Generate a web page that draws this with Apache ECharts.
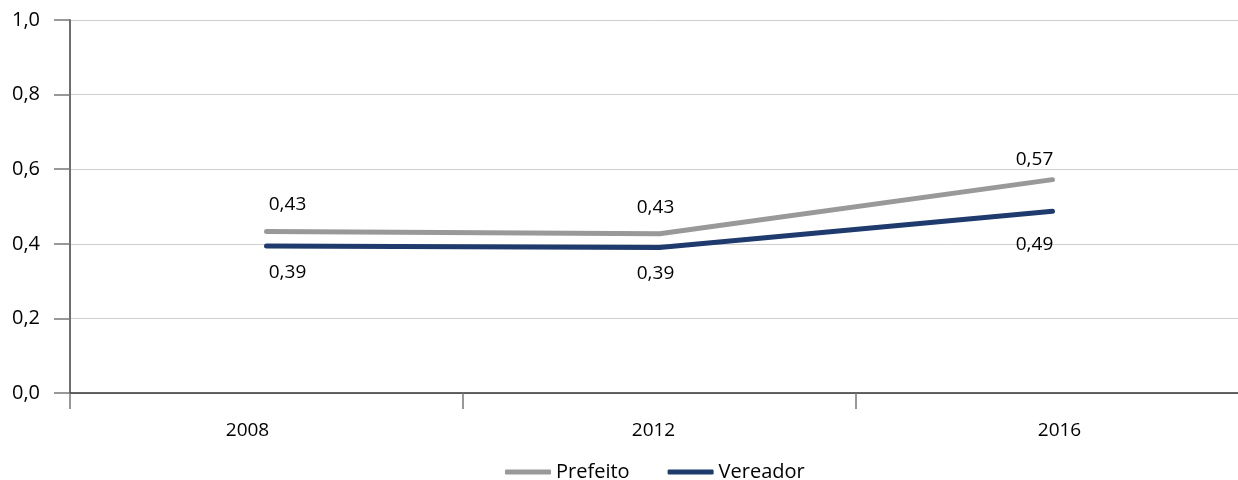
<!DOCTYPE html>
<html><head><meta charset="utf-8">
<script src="https://cdn.jsdelivr.net/npm/echarts@6/dist/echarts.min.js"></script>
<style>html,body{margin:0;padding:0;background:#fff}#c{width:1238px;height:480px}</style>
</head><body><div id="c"></div>
<script>
const categories = ['2008', '2012', '2016'];
const prefeito = [0.433, 0.427, 0.572];
const vereador = [0.394, 0.390, 0.487];
const yTicks = [0, 0.2, 0.4, 0.6, 0.8, 1.0];

// label style tweaks (pixel offsets, not data)
const topOffsets = [[21, -12], [-4, -12], [-18, -6]];
const botOffsets = [[21, 0], [-4, 0], [-18, 7]];
const xLabelStyles = ['l', 'm', 'r'];

const fmt = v => v.toFixed(2).replace('.', ',');
const font = 'Open Sans';
const labelBase = { show: true, fontSize: 19, color: '#000', fontFamily: font,
  formatter: p => fmt(p.value) };

const chart = echarts.init(document.getElementById('c'));
chart.setOption({
  animation: false,
  textStyle: { fontFamily: font },
  grid: { left: 70, top: 20, width: 1179, height: 373, outerBoundsMode: 'none', containLabel: false },
  xAxis: {
    type: 'category', data: categories, boundaryGap: true,
    axisLine: { lineStyle: { color: '#333', width: 1.5 } },
    axisTick: { show: true, length: 16, lineStyle: { color: '#777', width: 1.5 } },
    axisLabel: { color: '#000', fontSize: 19, margin: 28, fontFamily: font,
      formatter: (v, i) => '{' + xLabelStyles[i] + '|' + v + '}',
      rich: {
        l: { fontSize: 19, color: '#000', fontFamily: font, padding: [0, 38, 0, 0] },
        m: { fontSize: 19, color: '#000', fontFamily: font, padding: [0, 12, 0, 0] },
        r: { fontSize: 19, color: '#000', fontFamily: font, padding: [0, 0, 0, 14] }
      } }
  },
  yAxis: {
    type: 'value', min: 0, max: 1, interval: 0.2,
    axisLine: { show: true, lineStyle: { color: '#6e6e6e', width: 2 } },
    axisTick: { show: true, length: 16, lineStyle: { color: '#777', width: 1.5 } },
    splitLine: { lineStyle: { color: '#cfcfcf', width: 1 } },
    axisLabel: { color: '#000', fontSize: 20, margin: 30, fontFamily: font,
      formatter: v => v.toFixed(1).replace('.', ',') }
  },
  legend: {
    bottom: -7, left: 500, itemWidth: 46, itemHeight: 5, itemGap: 38,
    textStyle: { fontSize: 20, color: '#000', fontFamily: font },
    data: [
      { name: 'Prefeito', icon: 'roundRect' },
      { name: 'Vereador', icon: 'roundRect' }
    ]
  },
  series: [
    { name: 'Prefeito', type: 'line', showSymbol: true, symbol: 'circle', symbolSize: 0,
      color: '#999999',
      data: prefeito.map((v, i) => ({ value: v, label: { offset: topOffsets[i] } })),
      lineStyle: { width: 5, color: '#999999', cap: 'round', join: 'round' },
      label: Object.assign({ position: 'top', distance: 5 }, labelBase) },
    { name: 'Vereador', type: 'line', showSymbol: true, symbol: 'circle', symbolSize: 0,
      color: '#1f3a6d',
      data: vereador.map((v, i) => ({ value: v, label: { offset: botOffsets[i] } })),
      lineStyle: { width: 5, color: '#1f3a6d', cap: 'round', join: 'round' },
      label: Object.assign({ position: 'bottom', distance: 17 }, labelBase) }
  ]
});
</script></body></html>
